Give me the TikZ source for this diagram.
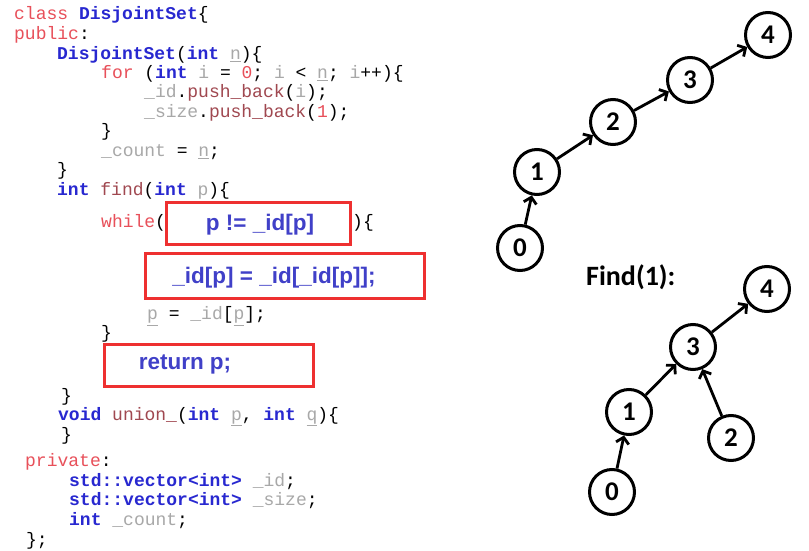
\documentclass[tikz,border=0pt]{standalone}
\usepackage{fontspec}
\usetikzlibrary{arrows.meta}
\setmonofont{Liberation Mono}
\newfontfamily\boxfont{Liberation Sans}
\newfontfamily\graphfont{Carlito}
\definecolor{kwred}{HTML}{E8505A}
\definecolor{kwblue}{HTML}{2828D0}
\definecolor{idgray}{HTML}{A8A8A8}
\definecolor{fnred}{HTML}{A04850}
\definecolor{boxred}{HTML}{EE3030}
\definecolor{boxblue}{HTML}{4040C8}
\newcommand\Kw[1]{\textcolor{kwred}{#1}}
\newcommand\Ty[1]{\textcolor{kwblue}{\bfseries #1}}
\newcommand\Gr[1]{\textcolor{idgray}{#1}}
\newcommand\Gu[1]{\textcolor{idgray}{\underline{#1}}}
\newcommand\Fn[1]{\textcolor{fnred}{#1}}
\begin{document}
\begin{tikzpicture}[x=1bp,y=-1bp,
  code/.style={anchor=base west,inner sep=0pt,font=\ttfamily\fontsize{18bp}{20bp}\selectfont},
  hbox/.style={draw=boxred,line width=3bp,inner sep=0pt},
  htext/.style={text=boxblue,font=\boxfont\bfseries\fontsize{22.5bp}{24bp}\selectfont},
  gnode/.style={circle,draw,line width=3bp,minimum size=45bp,inner sep=0pt,font=\graphfont\bfseries\fontsize{27bp}{27bp}\selectfont},
  garr/.style={line width=2.8bp,-{Straight Barb[length=6bp,width=13bp,line width=2.8bp]}}]
\useasboundingbox (0,0) rectangle (809,551);
\fill[white] (0,0) rectangle (809,551);
% code
\node[code] (l1) at (14,20) {\Kw{class} \Ty{DisjointSet}\{};
\node[code] (l2) at (14,40) {\Kw{public}:};
\node[code] (l3) at (57,60) {\Ty{DisjointSet}(\Ty{int} \Gu{n})\{};
\node[code] (l4) at (101,79) {\Kw{for} (\Ty{int} \Gr{i} = \Kw{0}; \Gr{i} < \Gu{n}; \Gr{i}++)\{};
\node[code] (l5) at (144,98) {\Gr{\_id}.\Fn{push\_back}(\Gr{i});};
\node[code] (l6) at (144,118) {\Gr{\_size}.\Fn{push\_back}(\Kw{1});};
\node[code] (l7) at (101,137) {\}};
\node[code] (l8) at (101,157) {\Gr{\_count} = \Gu{n};};
\node[code] (l9) at (57,176) {\}};
\node[code] (l10) at (57,196) {\Ty{int} \Fn{find}(\Ty{int} \Gu{p})\{};
\node[code] (l11) at (101,228) {\Kw{while}(};
\node[code] (l11b) at (352,228) {)\{};
\node[code] (l12) at (147,320) {\Gu{p} = \Gr{\_id}[\Gu{p}];};
\node[code] (l13) at (101,338) {\}};
\node[code] (l14) at (61,401) {\}};
\node[code] (l15) at (58,420) {\Ty{void} \Fn{union\_}(\Ty{int} \Gu{p}, \Ty{int} \Gu{q})\{};
\node[code] (l16) at (61,440) {\}};
\node[code] (l17) at (25,466) {\Kw{private}:};
\node[code] (l18) at (69,486) {\Ty{std::vector<int>} \Gr{\_id};};
\node[code] (l19) at (69,505) {\Ty{std::vector<int>} \Gr{\_size};};
\node[code] (l20) at (69,525) {\Ty{int} \Gr{\_count};};
\node[code] (l21) at (26,545) {\};};
% highlighted boxes
\draw[hbox] (166,203) rectangle (350,245);
\node[htext] (b1) at (260,225) {p != \_id[p]};
\draw[hbox] (145,254) rectangle (424,298);
\node[htext] (b2) at (274,278) {\_id[p] = \_id[\_id[p]];};
\draw[hbox] (104,344) rectangle (313,386);
\node[htext] (b3) at (185,364) {return p;};
% top graph
\node[gnode] (a4) at (768,35) {4};
\node[gnode] (a3) at (690,80) {3};
\node[gnode] (a2) at (613,122) {2};
\node[gnode] (a1) at (537,172) {1};
\node[gnode] (a0) at (520,248) {0};
\draw[garr] (a0) -- (a1);
\draw[garr] (a1) -- (a2);
\draw[garr] (a2) -- (a3);
\draw[garr] (a3) -- (a4);
% bottom graph
\node[anchor=west,inner sep=0pt,font=\graphfont\bfseries\fontsize{28bp}{28bp}\selectfont] (find) at (586,277) {Find(1):};
\node[gnode] (c4) at (767,289) {4};
\node[gnode] (c3) at (693,347) {3};
\node[gnode] (c1) at (629,412) {1};
\node[gnode] (c2) at (731,438) {2};
\node[gnode] (c0) at (612,492) {0};
\draw[garr] (c0) -- (c1);
\draw[garr] (c1) -- (c3);
\draw[garr] (c2) -- (c3);
\draw[garr] (c3) -- (c4);
\end{tikzpicture}
\end{document}
